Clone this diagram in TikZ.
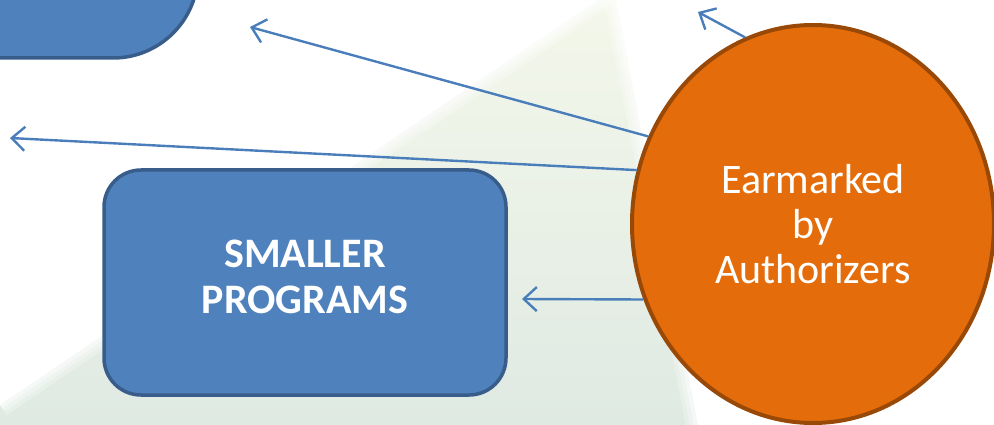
\documentclass[tikz,border=0pt]{standalone}
\usepackage{fontspec}
\setmainfont{Carlito}
\usetikzlibrary{shapes.geometric,arrows.meta}
\definecolor{boxblue}{HTML}{4F81BD}
\definecolor{boxedge}{HTML}{385D8A}
\definecolor{orfill}{HTML}{E46C0A}
\definecolor{oredge}{HTML}{984807}
\definecolor{arrblue}{HTML}{4A7EBB}
\definecolor{bgtop}{RGB}{244,247,234}
\definecolor{bgbot}{RGB}{223,234,227}
\tikzset{
  bluebox/.style={draw=boxedge, fill=boxblue, line width=3.5pt},
  orangeell/.style={ellipse, draw=oredge, fill=orfill, line width=4pt, inner sep=0pt,
     text=white, align=center, font=\fontsize{42}{45}\selectfont},
  boxtext/.style={text=white, align=center, font=\fontsize{42}{46}\selectfont\bfseries},
  conn/.style={draw=arrblue, line width=2.4pt, -{Straight Barb[length=13pt,width=24pt]}},
  softedge/.style={draw=white, line join=round}
}
\begin{document}
\begin{tikzpicture}[x=1pt,y=-1pt]
\useasboundingbox (0,0) rectangle (994,425);
% background triangle with soft edges
\shade[top color=bgtop, bottom color=bgbot] (598,0) -- (616,0) -- (698,425) -- (0,425) -- (0,405) -- cycle;
\foreach \w/\o in {24/0.25,16/0.3,8/0.4} {
  \draw[softedge, line width=\w pt, opacity=\o] (0,405) -- (598,0) -- (616,0) -- (698,425);
}
% top-left box (cut off)
\draw[bluebox, rounded corners=85pt] (-300,-200) rectangle (198,58);
% smaller programs box
\node[bluebox, draw, rectangle, rounded corners=37pt, minimum width=402pt, minimum height=225pt, inner sep=0pt] (SP) at (305,282.5) {};
\node[boxtext] (SPt) at (305,276.5) {SMALLER\\PROGRAMS};
% ellipse
\node[orangeell, minimum width=362pt, minimum height=398pt] (E) at (813,224) {Earmarked\\by\\Authorizers};
% arrow tips
\coordinate (t1) at (698,12);
\coordinate (t2) at (250,27);
\coordinate (t3) at (10,138);
\coordinate (t4) at (522,299);
\draw[conn] (E.110.6) -- (t1);
\draw[conn] (E.152.5) -- (t2);
\draw[conn] (E.163.3) -- (t3);
\draw[conn] (E.204.2) -- (t4);
\end{tikzpicture}
\end{document}
